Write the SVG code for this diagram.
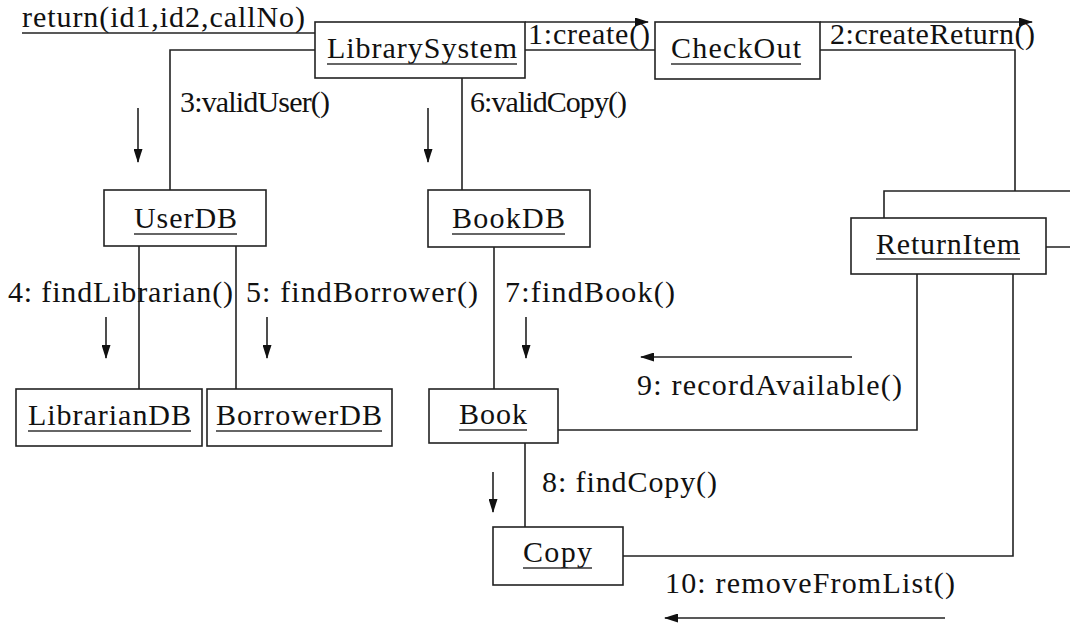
<svg xmlns="http://www.w3.org/2000/svg" width="1070" height="624" viewBox="0 0 1070 624">
  <style>
    .box { fill: #ffffff; stroke: #222; stroke-width: 1.6; }
    .link { fill: none; stroke: #222; stroke-width: 1.6; }
    .msg { fill: none; stroke: #222; stroke-width: 1.6; marker-end: url(#head); }
    .ul { stroke: #333; stroke-width: 1.6; }
    text { font-family: "Liberation Serif", "Times New Roman", serif; font-size: 30px; fill: #111; }
  </style>
  <defs>
    <marker id="head" viewBox="0 0 14 9" refX="13" refY="4.5" markerWidth="14" markerHeight="9" markerUnits="userSpaceOnUse" orient="auto">
      <path d="M0 0 L14 4.5 L0 9 Z" fill="#111"/>
    </marker>
  </defs>

  <rect width="1070" height="624" fill="#ffffff"/>

  <!-- links between objects -->
  <g id="connectors">
    <line class="link" x1="22" y1="33" x2="315" y2="33"/>
    <polyline class="link" points="315,50 170,50 170,190"/>
    <line class="link" x1="462" y1="78" x2="462" y2="190"/>
    <line class="link" x1="525" y1="50" x2="655" y2="50"/>
    <polyline class="link" points="820,50 1015,50 1015,191"/>
    <path class="link" d="M1046 247 H1080 V191 H884 V218"/>
    <line class="link" x1="139" y1="246" x2="139" y2="389"/>
    <line class="link" x1="236" y1="246" x2="236" y2="389"/>
    <line class="link" x1="494" y1="247" x2="494" y2="389"/>
    <polyline class="link" points="558,430 917,430 917,274"/>
    <line class="link" x1="525" y1="443" x2="525" y2="527"/>
    <polyline class="link" points="623,556 1013,556 1013,274"/>

    <!-- message direction arrows -->
    <line class="msg" x1="525" y1="22" x2="648" y2="22"/>
    <line class="msg" x1="820" y1="22" x2="1032" y2="22"/>
    <line class="msg" x1="138" y1="108" x2="138" y2="162"/>
    <line class="msg" x1="428" y1="108" x2="428" y2="162"/>
    <line class="msg" x1="106" y1="317" x2="106" y2="358"/>
    <line class="msg" x1="267" y1="317" x2="267" y2="358"/>
    <line class="msg" x1="526" y1="317" x2="526" y2="358"/>
    <line class="msg" x1="852" y1="357" x2="641" y2="357"/>
    <line class="msg" x1="493" y1="472" x2="493" y2="512"/>
    <line class="msg" x1="945" y1="618" x2="665" y2="618"/>
  </g>

  <!-- message labels -->
  <g id="labels">
    <text x="22" y="27" textLength="283" lengthAdjust="spacing">return(id1,id2,callNo)</text>
    <text x="528" y="44" textLength="122" lengthAdjust="spacing">1:create()</text>
    <text x="830" y="44" textLength="205" lengthAdjust="spacing">2:createReturn()</text>
    <text x="180" y="112" textLength="150" lengthAdjust="spacing">3:validUser()</text>
    <text x="470" y="112" textLength="157" lengthAdjust="spacing">6:validCopy()</text>
    <text x="8" y="302" textLength="225" lengthAdjust="spacing">4: findLibrarian()</text>
    <text x="246" y="302" textLength="232" lengthAdjust="spacing">5: findBorrower()</text>
    <text x="505" y="302" textLength="170" lengthAdjust="spacing">7:findBook()</text>
    <text x="637" y="395" textLength="265" lengthAdjust="spacing">9: recordAvailable()</text>
    <text x="542" y="492" textLength="175" lengthAdjust="spacing">8: findCopy()</text>
    <text x="665" y="593" textLength="290" lengthAdjust="spacing">10: removeFromList()</text>
  </g>

  <g id="LibrarySystem">
    <rect class="box" x="315" y="22" width="210" height="56"/>
    <text x="327" y="58" textLength="190" lengthAdjust="spacing">LibrarySystem</text>
    <line class="ul" x1="327" y1="64" x2="517" y2="64"/>
  </g>
  <g id="CheckOut">
    <rect class="box" x="655" y="22" width="165" height="57"/>
    <text x="671" y="58" textLength="130" lengthAdjust="spacing">CheckOut</text>
    <line class="ul" x1="671" y1="64" x2="801" y2="64"/>
  </g>
  <g id="UserDB">
    <rect class="box" x="104" y="190" width="162" height="56"/>
    <text x="134" y="228" textLength="103" lengthAdjust="spacing">UserDB</text>
    <line class="ul" x1="134" y1="234" x2="237" y2="234"/>
  </g>
  <g id="BookDB">
    <rect class="box" x="428" y="190" width="162" height="57"/>
    <text x="452" y="228" textLength="113" lengthAdjust="spacing">BookDB</text>
    <line class="ul" x1="452" y1="234" x2="565" y2="234"/>
  </g>
  <g id="ReturnItem">
    <rect class="box" x="851" y="218" width="195" height="56"/>
    <text x="876" y="254" textLength="144" lengthAdjust="spacing">ReturnItem</text>
    <line class="ul" x1="876" y1="259" x2="1020" y2="259"/>
  </g>
  <g id="LibrarianDB">
    <rect class="box" x="16" y="389" width="186" height="57"/>
    <text x="28" y="425" textLength="163" lengthAdjust="spacing">LibrarianDB</text>
    <line class="ul" x1="28" y1="431" x2="191" y2="431"/>
  </g>
  <g id="BorrowerDB">
    <rect class="box" x="207" y="389" width="185" height="57"/>
    <text x="216" y="425" textLength="166" lengthAdjust="spacing">BorrowerDB</text>
    <line class="ul" x1="216" y1="431" x2="382" y2="431"/>
  </g>
  <g id="Book">
    <rect class="box" x="429" y="389" width="129" height="54"/>
    <text x="459" y="424" textLength="68" lengthAdjust="spacing">Book</text>
    <line class="ul" x1="459" y1="430" x2="527" y2="430"/>
  </g>
  <g id="Copy">
    <rect class="box" x="493" y="527" width="130" height="58"/>
    <text x="523" y="562" textLength="69" lengthAdjust="spacing">Copy</text>
    <line class="ul" x1="523" y1="568" x2="592" y2="568"/>
  </g>
</svg>
